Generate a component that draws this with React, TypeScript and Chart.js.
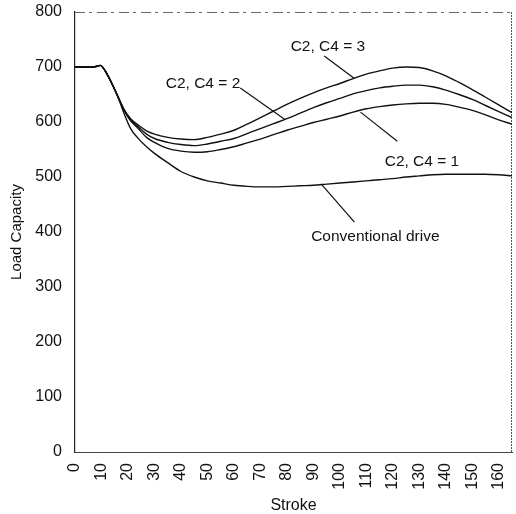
import React, { useEffect, useRef } from "react";
import { Chart, registerables } from "chart.js";

Chart.register(...registerables);

// Stroke positions (x) shared by all series
const strokeX = [0, 5, 8, 9.5, 12, 14.5, 16.5, 18.5, 21, 23.5, 27, 30, 35, 40, 45, 50, 55, 60, 65, 70, 75, 80, 85, 90, 95, 100, 105, 110, 115, 120, 125, 130, 135, 140, 145, 150, 155, 160, 165];

const conventional = [700, 700, 701, 703, 688, 664, 642, 616, 588, 572, 555, 543, 526, 510, 500, 493, 489, 485, 483, 482, 482, 483, 484, 485, 487, 489, 491, 493, 495, 497, 500, 502, 504, 505, 505, 505, 505, 504, 502];
const c4eq1 = [700, 700, 701, 703, 688, 664, 643, 622, 602, 590, 572, 563, 552, 547, 545, 546, 550, 555, 562, 569, 577, 585, 592, 599, 605, 611, 618, 624, 628, 631, 633, 634, 634, 632, 627, 621, 613, 604, 596];
const c4eq2 = [700, 700, 701, 703, 688, 664, 643, 622, 604, 593, 578, 570, 563, 559, 557, 560, 565, 570, 579, 588, 597, 606, 616, 626, 635, 643, 651, 657, 662, 665, 667, 667, 664, 658, 650, 641, 630, 619, 608];
const c4eq3 = [700, 700, 701, 703, 688, 664, 643, 623, 606, 596, 584, 578, 572, 569, 568, 572, 578, 585, 596, 608, 620, 632, 643, 653, 662, 670, 679, 687, 693, 698, 700, 699, 693, 684, 672, 659, 645, 631, 617];

const xTickValues = [0, 10, 20, 30, 40, 50, 60, 70, 80, 90, 100, 110, 120, 130, 140, 150, 160];
const yTickValues = [0, 100, 200, 300, 400, 500, 600, 700, 800];

const seriesLabels = ["Conventional drive", "C2, C4 = 1", "C2, C4 = 2", "C2, C4 = 3"];

// Callout annotations in data units: label anchor and leader line ends
const calloutText = ["C2, C4 = 3", "C2, C4 = 2", "C2, C4 = 1", "Conventional drive"];
const calloutAnchor = [[95.5, 736], [62.4, 669], [131, 527], [113.4, 391]];
const calloutAlign = ["center", "right", "center", "center"];
const calloutLeader = [
  [94.1, 720, 105.5, 679],
  [62.4, 662, 79.4, 604],
  [107.8, 618, 121.7, 565],
  [93, 487, 105.5, 418],
];

const FONT = "'Liberation Sans', Arial, sans-serif";

const calloutPlugin = {
  id: "callouts",
  afterDatasetsDraw(chart: any) {
    const { ctx, scales } = chart;
    const xs = scales.x;
    const ys = scales.y;
    ctx.save();
    ctx.strokeStyle = "#111";
    ctx.lineWidth = 1.2;
    calloutLeader.forEach((l) => {
      ctx.beginPath();
      ctx.moveTo(xs.getPixelForValue(l[0]), ys.getPixelForValue(l[1]));
      ctx.lineTo(xs.getPixelForValue(l[2]), ys.getPixelForValue(l[3]));
      ctx.stroke();
    });
    ctx.fillStyle = "#111";
    ctx.font = `15.5px ${FONT}`;
    ctx.textBaseline = "middle";
    calloutText.forEach((t, i) => {
      ctx.textAlign = calloutAlign[i] as CanvasTextAlign;
      ctx.fillText(t, xs.getPixelForValue(calloutAnchor[i][0]), ys.getPixelForValue(calloutAnchor[i][1]));
    });
    ctx.restore();
  },
  beforeDatasetsDraw(chart: any) {
    const { ctx, chartArea } = chart;
    ctx.save();
    ctx.lineWidth = 1;
    ctx.strokeStyle = "#666";
    ctx.setLineDash([10, 4, 3, 5]);
    ctx.beginPath();
    ctx.moveTo(chartArea.left, chartArea.top + 0.5);
    ctx.lineTo(chartArea.right, chartArea.top + 0.5);
    ctx.stroke();
    ctx.setLineDash([2, 1]);
    ctx.strokeStyle = "#555";
    ctx.beginPath();
    ctx.moveTo(chartArea.right - 0.5, chartArea.top);
    ctx.lineTo(chartArea.right - 0.5, chartArea.bottom);
    ctx.stroke();
    ctx.restore();
  },
};

export default function App() {
  const ref = useRef<HTMLCanvasElement | null>(null);

  useEffect(() => {
    document.body.style.margin = "0";
    const series = [conventional, c4eq1, c4eq2, c4eq3];
    const chart = new Chart(ref.current as HTMLCanvasElement, {
      type: "line",
      data: {
        datasets: series.map((arr, i) => ({
          label: seriesLabels[i],
          data: strokeX.map((x, j) => ({ x, y: arr[j] })),
          borderColor: "#111",
          borderWidth: 1.4,
          pointRadius: 0,
          fill: false,
          cubicInterpolationMode: "monotone" as const,
        })),
      },
      options: {
        animation: false,
        responsive: false,
        layout: { padding: { top: 12, right: 4, left: 0, bottom: 0 } },
        plugins: { legend: { display: false }, tooltip: { enabled: false } },
        scales: {
          x: {
            type: "linear",
            min: 0,
            max: 165,
            afterBuildTicks: (s: any) => {
              s.ticks = xTickValues.map((v) => ({ value: v }));
            },
            afterFit: (s: any) => {
              s.height = 62;
              s.paddingLeft = 0;
              s.paddingRight = 0;
            },
            grid: { display: false, drawTicks: false },
            border: { display: true, color: "#444", width: 1 },
            ticks: {
              autoSkip: false,
              minRotation: 90,
              maxRotation: 90,
              padding: 11,
              color: "#111",
              font: { family: FONT, size: 16 },
            },
            title: {
              display: true,
              text: "Stroke",
              color: "#111",
              font: { family: FONT, size: 16, lineHeight: 1 },
              padding: 0,
            },
          },
          y: {
            type: "linear",
            min: 0,
            max: 800,
            afterBuildTicks: (s: any) => {
              s.ticks = yTickValues.map((v) => ({ value: v }));
            },
            afterFit: (s: any) => {
              s.width = 75;
              s.paddingTop = 0;
              s.paddingBottom = 0;
            },
            grid: { display: false, drawTicks: false },
            border: { display: true, color: "#222", width: 1.2 },
            ticks: {
              padding: 13,
              color: "#111",
              font: { family: FONT, size: 16 },
            },
            title: {
              display: true,
              text: "Load Capacity",
              color: "#111",
              font: { family: FONT, size: 15 },
              padding: { top: 8, bottom: 0 },
            },
          },
        },
      },
      plugins: [calloutPlugin],
    });
    return () => chart.destroy();
  }, []);

  return <canvas ref={ref} width={516} height={514} style={{ display: "block" }} />;
}
